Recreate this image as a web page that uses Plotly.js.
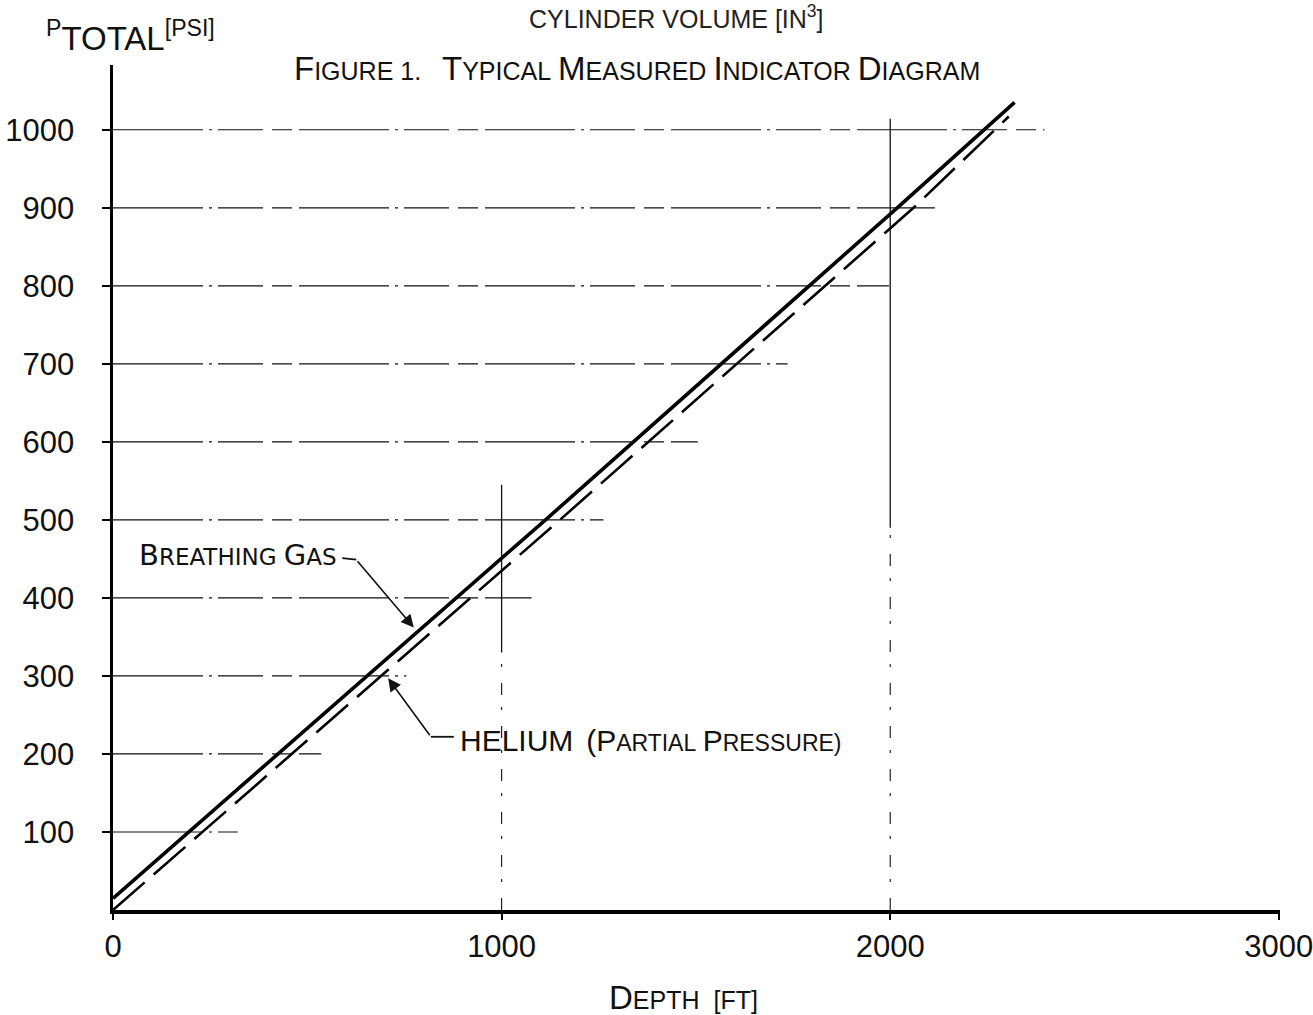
<!DOCTYPE html>
<html>
<head>
<meta charset="utf-8">
<script src="https://cdn.plot.ly/plotly-3.0.1.min.js"></script>
<style>
  html, body { margin: 0; padding: 0; background: #fff; }
  #chart { width: 1313px; height: 1015px; }
</style>
</head>
<body>
<div id="chart"></div>
<script>
// Total pressure of the breathing gas versus depth
const breathingDepth = [0, 1113, 2018, 2320];
const breathingPsi   = [15, 500, 900, 1035];

// Helium partial pressure versus depth
const heliumDepth = [0, 1150, 2060, 2305];
const heliumPsi   = [0, 500, 900, 1017];

// Pressure levels with their drafted extension lines (depth where each line stops)
const guideLevels = [100, 200, 300, 400, 500, 600, 700, 800, 900, 1000];
const guideEnds   = [321, 536, 755, 1077, 1262, 1505, 1736, 1997, 2115, 2397];

// Vertical reference lines at round depths: solid part between bottom and top, broken below
const refDepths   = [1000, 2000];
const refSolidTop = [545, 1014];
const refSolidBot = [330, 490];

// Axis tick labels
const xTicks = [0, 1000, 2000, 3000];
const yTicks = [100, 200, 300, 400, 500, 600, 700, 800, 900, 1000];

const NARROW = '"Liberation Sans", Arial, sans-serif';
const PLAIN  = '"DejaVu Sans", "Liberation Sans", sans-serif';

const shapes = [];
guideLevels.forEach((p, i) => {
  shapes.push({
    type: 'line', xref: 'x', yref: 'y',
    x0: 0, x1: guideEnds[i], y0: p, y1: p,
    line: { color: '#111', width: 1.2, dash: '90px,6px,3px,6px,45px,9px,20px,7px' }
  });
});
refDepths.forEach((d, i) => {
  shapes.push({
    type: 'line', xref: 'x', yref: 'y',
    x0: d, x1: d, y0: refSolidBot[i], y1: refSolidTop[i],
    line: { color: '#111', width: 1.3 }
  });
  shapes.push({
    type: 'line', xref: 'x', yref: 'y',
    x0: d, x1: d, y0: 0, y1: refSolidBot[i],
    line: { color: '#111', width: 1.1, dash: '12px,16px,3px,12px' }
  });
});
// short horizontal legs of the label leaders
shapes.push({ type: 'line', xref: 'x', yref: 'y', x0: 590, x1: 626, y0: 451, y1: 449,
  line: { color: '#111', width: 1.8 } });
shapes.push({ type: 'line', xref: 'x', yref: 'y', x0: 818, x1: 877, y0: 222, y1: 222,
  line: { color: '#111', width: 1.8 } });

const traces = [
  {
    x: breathingDepth, y: breathingPsi, mode: 'lines', name: 'Breathing gas',
    line: { color: '#000', width: 3.6 }, hoverinfo: 'x+y'
  },
  {
    x: heliumDepth, y: heliumPsi, mode: 'lines', name: 'Helium (partial pressure)',
    line: { color: '#000', width: 2.6, dash: '42px,12px' }, hoverinfo: 'x+y'
  }
];

// paper coordinates for a pixel position inside the 1313x1015 page
const L = 113, R = 1280, T = 65, B = 910;
const px = x => (x - L) / (R - L);
const py = y => (B - y) / (B - T);

const sc = (big, small, bs, ss) =>
  `<span style="font-size:${bs}px">${big}</span><span style="font-size:${ss}px">${small}</span>`;

const annotations = [
  {
    xref: 'paper', yref: 'paper', x: px(676), y: py(17), xanchor: 'center', yanchor: 'middle',
    showarrow: false, text: 'CYLINDER VOLUME [IN<sup>3</sup>]',
    font: { family: NARROW, size: 25, color: '#222' }
  },
  {
    xref: 'paper', yref: 'paper', x: px(637), y: py(68), xanchor: 'center', yanchor: 'middle',
    showarrow: false,
    text: sc('F', 'IGURE 1.', 33, 25) + '&nbsp;&nbsp;&nbsp;' +
          sc('T', 'YPICAL', 33, 25) + '&nbsp;' + sc('M', 'EASURED', 33, 25) + '&nbsp;' +
          sc('I', 'NDICATOR', 33, 25) + '&nbsp;' + sc('D', 'IAGRAM', 33, 25),
    font: { family: NARROW, size: 25, color: '#111' }
  },
  {
    xref: 'paper', yref: 'paper', x: px(44), y: py(36), xanchor: 'left', yanchor: 'middle',
    showarrow: false,
    text: '<sup>P</sup>TOTAL<sup>[PSI]</sup>',
    font: { family: NARROW, size: 33, color: '#111' }
  },
  {
    xref: 'paper', yref: 'paper', x: px(683), y: py(997), xanchor: 'center', yanchor: 'middle',
    showarrow: false,
    text: sc('D', 'EPTH', 33, 25) + '&nbsp;&nbsp;<span style="font-size:25px">[FT]</span>',
    font: { family: NARROW, size: 25, color: '#111' }
  },
  {
    xref: 'x', yref: 'y', x: 582, y: 455, xanchor: 'right', yanchor: 'middle',
    showarrow: false,
    text: sc('B', 'REATHING', 29, 23) + '&nbsp;' + sc('G', 'AS', 29, 23),
    font: { family: PLAIN, size: 23, color: '#111' }
  },
  {
    xref: 'x', yref: 'y', x: 888, y: 217, xanchor: 'left', yanchor: 'middle',
    showarrow: false,
    text: '<span style="font-size:30px">HELIUM</span>&nbsp;&nbsp;' +
          sc('(P', 'ARTIAL', 30, 23) + '&nbsp;' + sc('P', 'RESSURE)', 30, 23),
    font: { family: NARROW, size: 23, color: '#111' }
  },
  // leader arrows
  {
    xref: 'x', yref: 'y', axref: 'x', ayref: 'y',
    x: 774, y: 362, ax: 626, ay: 449, text: '',
    showarrow: true, arrowhead: 2, arrowsize: 1.6, arrowwidth: 1.6, arrowcolor: '#111'
  },
  {
    xref: 'x', yref: 'y', axref: 'x', ayref: 'y',
    x: 708, y: 297, ax: 818, ay: 222, text: '',
    showarrow: true, arrowhead: 2, arrowsize: 1.6, arrowwidth: 1.6, arrowcolor: '#111'
  }
];

const layout = {
  width: 1313, height: 1015,
  margin: { l: L, r: 1313 - R, t: T, b: 1015 - B },
  paper_bgcolor: '#fff', plot_bgcolor: '#fff',
  showlegend: false,
  xaxis: {
    range: [0, 3003], tickvals: xTicks, ticktext: xTicks.map(String),
    showgrid: false, zeroline: false,
    showline: true, linecolor: '#000', linewidth: 3.5,
    ticks: 'outside', ticklen: 6, tickwidth: 2, tickcolor: '#000',
    ticklabeloverflow: 'allow',
    tickfont: { family: NARROW, size: 31, color: '#111' },
    fixedrange: true
  },
  yaxis: {
    range: [0, 1083], tickvals: yTicks, ticktext: yTicks.map(String),
    showgrid: false, zeroline: false,
    showline: true, linecolor: '#000', linewidth: 2.6,
    ticks: 'outside', ticklen: 8, tickwidth: 2.2, tickcolor: '#000',
    ticklabelstandoff: 22, ticklabeloverflow: 'allow',
    tickfont: { family: NARROW, size: 31, color: '#111' },
    fixedrange: true
  },
  shapes: shapes,
  annotations: annotations
};

Plotly.newPlot('chart', traces, layout, { displayModeBar: false, staticPlot: true });
</script>
</body>
</html>
